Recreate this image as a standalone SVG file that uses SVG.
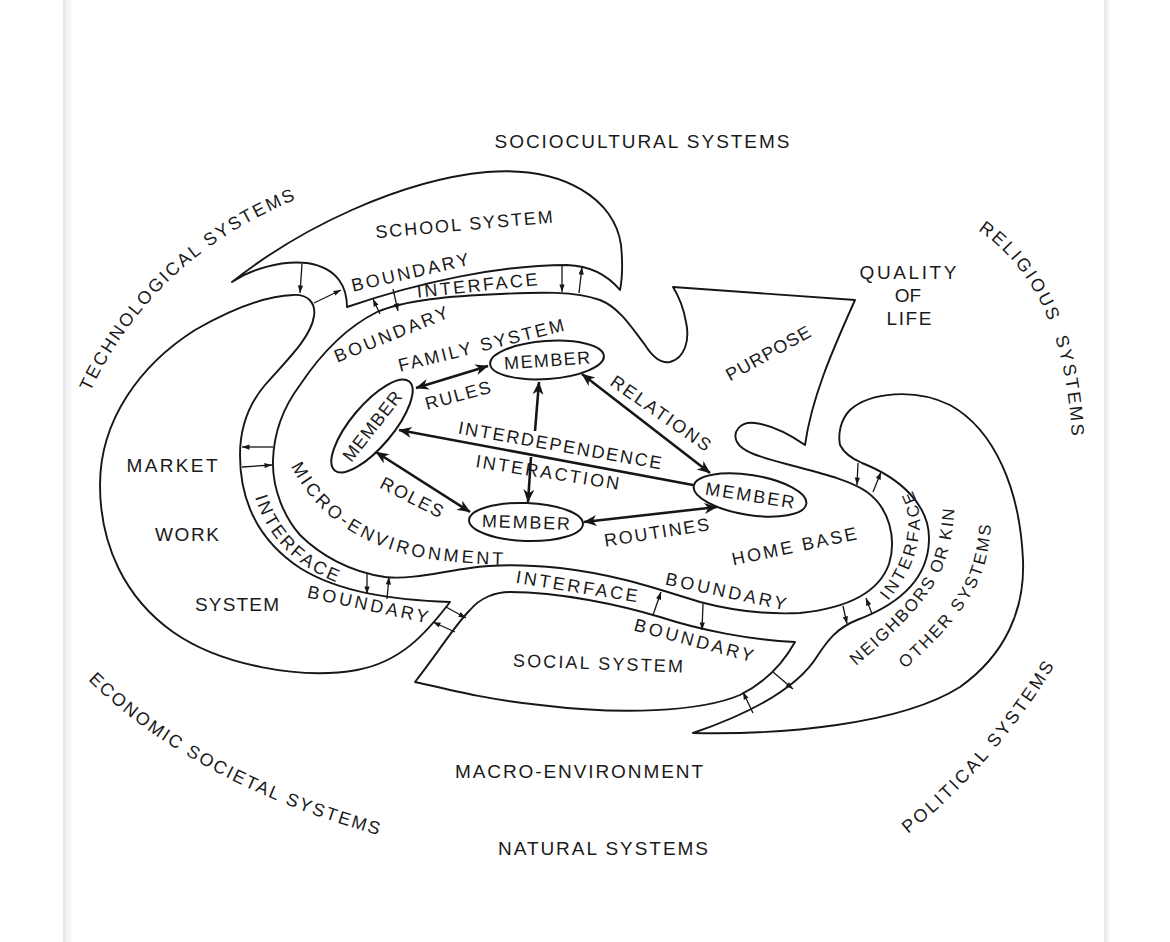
<svg xmlns="http://www.w3.org/2000/svg" width="1170" height="942" viewBox="0 0 1170 942">
<style>
.sh{fill:none;stroke:#161616;stroke-width:1.9;stroke-linejoin:round;stroke-linecap:round}
.t{font-family:"Liberation Sans",Arial,sans-serif;font-size:18px;fill:#1a1a1a;text-anchor:middle}
.o{font-size:19px}
.tp{font-family:"Liberation Sans",Arial,sans-serif;font-size:18px;fill:#1a1a1a}
.sm{font-size:17px}
.ia{fill:none;stroke:#161616;stroke-width:1.3;marker-end:url(#sa)}
.ma{fill:none;stroke:#161616;stroke-width:2.6;marker-end:url(#mh)}
.mb{marker-start:url(#mh)}
.mem{fill:#fff;stroke:#161616;stroke-width:2}
</style>
<defs>
<marker id="sa" viewBox="0 0 10 8" refX="10" refY="4" markerWidth="8" markerHeight="6" orient="auto" markerUnits="userSpaceOnUse"><path d="M0,0.5 L10,4 L0,7.5 Z" fill="#161616"/></marker>
<marker id="mh" viewBox="0 0 12 10" refX="11.5" refY="5" markerWidth="14" markerHeight="11" orient="auto-start-reverse" markerUnits="userSpaceOnUse"><path d="M0,0 L12,5 L0,10 L3.5,5 Z" fill="#161616"/></marker>
<path id="p-tech" d="M90,392 Q155,255 300,198"/>
<path id="p-rel" d="M978,230 Q1066,290 1072,442"/>
<path id="p-pol" d="M908,834 Q995,765 1058,660"/>
<path id="p-eco" d="M88,680 Q195,785 385,837"/>
<path id="p-micro" d="M291,466 C318,520 370,550 430,559 C465,564 495,565 520,565"/>
<path id="p-lif" d="M255,497 C268,540 300,572 352,588"/>
<path id="p-rif" d="M888,601 C908,577 920,550 920,520 C919,505 914,492 907,482"/>
<path id="p-nei" d="M856,666 C895,632 933,598 945,561 C952,541 956,512 955,480"/>
<path id="p-oth" d="M905,669 C942,636 974,601 984,566 C990,546 992,522 992,502"/>
</defs>
<rect width="1170" height="942" fill="#fff"/>
<rect x="63" y="0" width="3" height="942" fill="#e8e8e8"/>
<rect x="66" y="0" width="5" height="942" fill="#f6f6f6"/>
<rect x="1104" y="0" width="3" height="942" fill="#ebebeb"/>
<rect x="1107" y="0" width="3" height="942" fill="#f7f7f7"/>

<g id="outer-labels">
<text class="t o" x="642" y="148" textLength="295" lengthAdjust="spacing">SOCIOCULTURAL  SYSTEMS</text>
<text class="tp o" letter-spacing="2.2"><textPath href="#p-tech">TECHNOLOGICAL SYSTEMS</textPath></text>
<text class="tp o" letter-spacing="2.4" xml:space="preserve"><textPath href="#p-rel">RELIGIOUS  SYSTEMS</textPath></text>
<text class="tp o" letter-spacing="2.6"><textPath href="#p-pol">POLITICAL SYSTEMS</textPath></text>
<text class="tp o" letter-spacing="2.1"><textPath href="#p-eco">ECONOMIC SOCIETAL SYSTEMS</textPath></text>
<text class="t o" x="579" y="778" textLength="248" lengthAdjust="spacing">MACRO-ENVIRONMENT</text>
<text class="t o" x="603" y="855" textLength="210" lengthAdjust="spacing">NATURAL SYSTEMS</text>
<text class="t o" x="908" y="279" textLength="97" lengthAdjust="spacing">QUALITY</text>
<text class="t o" x="908" y="302">OF</text>
<text class="t o" x="909" y="325" textLength="45" lengthAdjust="spacing">LIFE</text>
</g>

<g id="school-system">
<path class="sh" d="M232,282 C300,228 400,180 487,172 C565,166 615,200 621,245 C623,265 622,280 620,290 C610,278 595,266 567,265 C500,265 420,282 347,307 C347,290 340,268 307,263 C280,260 250,270 232,282 Z"/>
<text class="t" transform="translate(464,224) rotate(-5)" y="6.5" textLength="178" lengthAdjust="spacing">SCHOOL SYSTEM</text>
<text class="t" transform="translate(410,272) rotate(-13)" y="6.5" textLength="120" lengthAdjust="spacing">BOUNDARY</text>
<text class="t" transform="translate(477,285) rotate(-6)" y="6.5" textLength="121" lengthAdjust="spacing">INTERFACE</text>
</g>

<g id="market-work-system">
<path class="sh" d="M450,602 C425,635 400,662 357,670 C300,680 220,665 173,632 C125,598 100,545 100,485 C100,420 140,365 195,330 C230,310 265,296 293,295 C308,294 316,303 314,316 C311,338 285,362 265,385 C248,405 240,430 240,455 C240,500 258,540 300,568 C340,593 395,600 450,602 Z"/>
<text class="t o" x="172" y="472" textLength="91" lengthAdjust="spacing">MARKET</text>
<text class="t o" x="187" y="541" textLength="64" lengthAdjust="spacing">WORK</text>
<text class="t o" x="237" y="611" textLength="84" lengthAdjust="spacing">SYSTEM</text>
<text class="tp" letter-spacing="2.6"><textPath href="#p-lif">INTERFACE</textPath></text>
<text class="t" transform="translate(368,604) rotate(12)" y="6.5" textLength="123" lengthAdjust="spacing">BOUNDARY</text>
</g>

<g id="family-system">
<path class="sh" d="M673,287 L855,300 C835,345 812,395 805,445 C792,436 772,425 755,423 C740,421 732,432 737,442 C742,452 760,457 790,465 C820,473 850,480 867,492 C889,508 897,538 889,564 C879,592 848,608 800,613 C760,615 730,610 700,602 C660,590 620,575 560,568 C520,564 490,565 470,568 C440,572 410,580 385,577 C350,572 320,555 300,535 C285,518 272,490 273,460 C274,430 285,405 300,385 C320,355 345,328 377,312 C405,300 450,296 500,294 C540,292 575,291 600,300 C620,308 632,328 645,345 C652,356 660,364 670,362 C685,358 690,340 686,322 C683,305 678,295 673,287 Z"/>
<text class="t" transform="translate(391,334) rotate(-22)" y="6.5" textLength="121" lengthAdjust="spacing">BOUNDARY</text>
<text class="t" transform="translate(481,345) rotate(-14)" y="6.5" textLength="170" lengthAdjust="spacing">FAMILY SYSTEM</text>
<text class="t" transform="translate(768,353) rotate(-29)" y="6.5" textLength="94" lengthAdjust="spacing">PURPOSE</text>
<text class="tp" letter-spacing="3"><textPath href="#p-micro">MICRO-ENVIRONMENT</textPath></text>
<text class="t" transform="translate(577,586) rotate(9)" y="6.5" textLength="123" lengthAdjust="spacing">INTERFACE</text>
<text class="t" transform="translate(726,591) rotate(12)" y="6.5" textLength="123" lengthAdjust="spacing">BOUNDARY</text>
<text class="t" transform="translate(794,546) rotate(-12)" y="6.5" textLength="127" lengthAdjust="spacing">HOME BASE</text>
<text class="t" transform="translate(457.8,395) rotate(-15)" y="6.5" textLength="67" lengthAdjust="spacing">RULES</text>
<text class="t" transform="translate(560,445) rotate(10)" y="6.5" textLength="206" lengthAdjust="spacing">INTERDEPENDENCE</text>
<text class="t" transform="translate(547.5,472) rotate(9)" y="6.5" textLength="145" lengthAdjust="spacing">INTERACTION</text>
<text class="t" transform="translate(661,413) rotate(35)" y="6.5" textLength="118" lengthAdjust="spacing">RELATIONS</text>
<text class="t" transform="translate(412,497) rotate(27)" y="6.5" textLength="68" lengthAdjust="spacing">ROLES</text>
<text class="t" transform="translate(656.5,532) rotate(-9)" y="6.5" textLength="106" lengthAdjust="spacing">ROUTINES</text>
</g>

<g id="social-system">
<path class="sh" d="M415,682 C440,650 455,625 470,610 C480,598 495,592 510,592 C560,592 620,605 660,617 C700,630 750,640 795,642 C785,660 770,680 740,695 C700,712 620,715 540,705 C490,700 450,690 415,682 Z"/>
<text class="t" transform="translate(694,640) rotate(15)" y="6.5" textLength="123" lengthAdjust="spacing">BOUNDARY</text>
<text class="t" transform="translate(598,663) rotate(2)" y="6.5" textLength="170" lengthAdjust="spacing">SOCIAL SYSTEM</text>
</g>

<g id="neighbors-system">
<path class="sh" d="M693,733 C780,735 900,725 960,687 C1005,655 1025,610 1023,560 C1020,490 995,430 950,405 C915,388 870,392 850,410 C840,420 838,435 840,445 C845,455 855,460 862,463 C900,478 930,505 929,540 C928,580 897,605 857,620 C837,628 828,640 818,655 C800,685 760,710 693,733 Z"/>
<text class="tp sm" letter-spacing="3"><textPath href="#p-rif">INTERFACE</textPath></text>
<text class="tp sm" letter-spacing="1.8"><textPath href="#p-nei">NEIGHBORS OR KIN</textPath></text>
<text class="tp sm" letter-spacing="2.3"><textPath href="#p-oth">OTHER SYSTEMS</textPath></text>
</g>

<g id="member-top">
<ellipse class="mem" cx="547" cy="360" rx="57" ry="19" transform="rotate(-4 547 360)"/>
<text class="t" transform="translate(547,360) rotate(-4)" y="6.5" textLength="86" lengthAdjust="spacing">MEMBER</text>
</g>
<g id="member-left">
<ellipse class="mem" cx="372" cy="426" rx="58" ry="21" transform="rotate(-50 372 426)"/>
<text class="t" transform="translate(372,426) rotate(-52)" y="6.5" textLength="84" lengthAdjust="spacing">MEMBER</text>
</g>
<g id="member-bottom">
<ellipse class="mem" cx="526" cy="522" rx="57" ry="19" transform="rotate(2 526 522)"/>
<text class="t" transform="translate(526,522) rotate(2)" y="6.5" textLength="88" lengthAdjust="spacing">MEMBER</text>
</g>
<g id="member-right">
<ellipse class="mem" cx="750" cy="495" rx="57" ry="20" transform="rotate(9 750 495)"/>
<text class="t" transform="translate(750,495) rotate(9)" y="6.5" textLength="90" lengthAdjust="spacing">MEMBER</text>
</g>

<g id="connectors">
<path class="ma mb" d="M416,388 L488,366"/>
<path class="ma" d="M535,431 L539,382"/>
<path class="ma" d="M693,485 L399,430"/>
<path class="ma" d="M531,457 L528,502"/>
<path class="ma mb" d="M582,374 L710,473"/>
<path class="ma mb" d="M376,452 L470,512"/>
<path class="ma mb" d="M584,522 L717,507"/>
<path class="ia" d="M302,264 L300,293"/>
<path class="ia" d="M314,303 L341,290"/>
<path class="ia" d="M380,314 L373,299"/>
<path class="ia" d="M393,289 L398,311"/>
<path class="ia" d="M562,266 L562,292"/>
<path class="ia" d="M579,293 L582,267"/>
<path class="ia" d="M273,447 L242,447"/>
<path class="ia" d="M242,467 L272,465"/>
<path class="ia" d="M367,573 L367,594"/>
<path class="ia" d="M387,599 L389,577"/>
<path class="ia" d="M446,607 L466,618"/>
<path class="ia" d="M455,632 L433,622"/>
<path class="ia" d="M653,615 L661,592"/>
<path class="ia" d="M703,604 L702,630"/>
<path class="ia" d="M773,672 L793,689"/>
<path class="ia" d="M753,713 L743,692"/>
<path class="ia" d="M858,463 L857,485"/>
<path class="ia" d="M873,492 L881,472"/>
<path class="ia" d="M843,606 L847,624"/>
<path class="ia" d="M872,614 L866,598"/>
</g>
</svg>
